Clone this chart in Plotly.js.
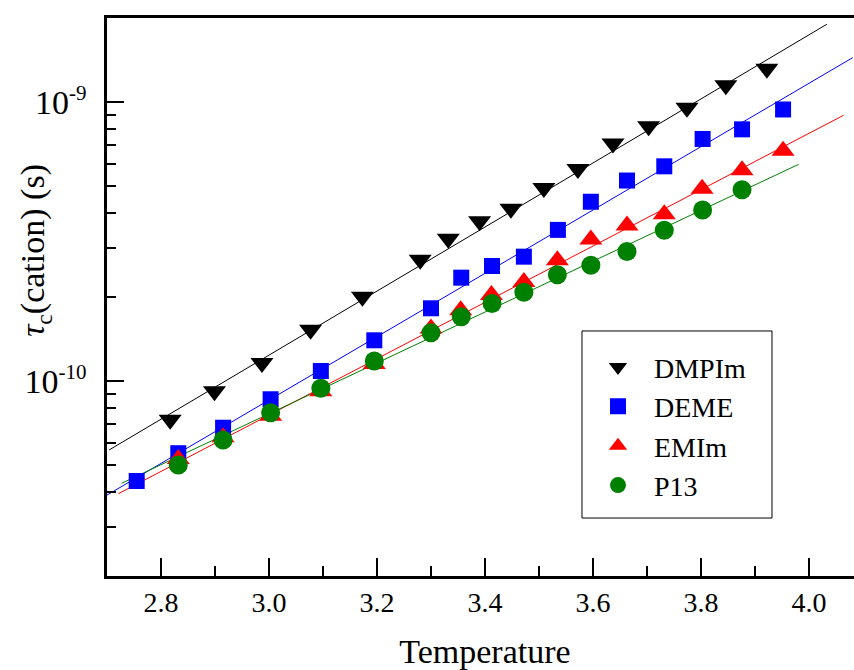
<!DOCTYPE html>
<html>
<head>
<meta charset="utf-8">
<script src="https://cdn.plot.ly/plotly-3.0.1.min.js"></script>
<style>
html, body { margin:0; padding:0; overflow:hidden; background:#fff; }
#chart { width:870px; height:670px; }
</style>
</head>
<body>
<div id="chart"></div>
<script>
// ---- data ----
const seriesNames = ["DMPIm", "DEME", "EMIm", "P13"];

const temp_DMPIm = [2.817, 2.899, 2.987, 3.077, 3.173, 3.280, 3.332, 3.390, 3.448, 3.509, 3.572, 3.637, 3.703, 3.774, 3.846, 3.922];
const tau_DMPIm  = [7.26e-11, 9.19e-11, 1.160e-10, 1.527e-10, 2.003e-10, 2.721e-10, 3.236e-10, 3.735e-10, 4.146e-10, 4.917e-10, 5.75e-10, 7.10e-10, 8.18e-10, 9.54e-10, 1.148e-9, 1.316e-9];

const temp_DEME = [2.755, 2.832, 2.915, 3.003, 3.096, 3.195, 3.300, 3.356, 3.413, 3.472, 3.535, 3.596, 3.663, 3.732, 3.803, 3.876, 3.952];
const tau_DEME  = [4.38e-11, 5.51e-11, 6.80e-11, 8.60e-11, 1.086e-10, 1.399e-10, 1.822e-10, 2.346e-10, 2.583e-10, 2.79e-10, 3.48e-10, 4.39e-10, 5.23e-10, 5.88e-10, 7.37e-10, 7.98e-10, 9.40e-10];

const temp_EMIm = [2.832, 2.915, 3.003, 3.096, 3.195, 3.300, 3.355, 3.412, 3.472, 3.534, 3.596, 3.663, 3.732, 3.802, 3.876, 3.952];
const tau_EMIm  = [5.25e-11, 6.28e-11, 7.50e-11, 9.18e-11, 1.150e-10, 1.541e-10, 1.792e-10, 2.035e-10, 2.265e-10, 2.707e-10, 3.217e-10, 3.606e-10, 3.958e-10, 4.886e-10, 5.69e-10, 6.69e-10];

const temp_P13 = [2.832, 2.915, 3.003, 3.096, 3.195, 3.300, 3.356, 3.413, 3.472, 3.534, 3.596, 3.663, 3.732, 3.803, 3.876];
const tau_P13  = [5.00e-11, 6.14e-11, 7.70e-11, 9.42e-11, 1.179e-10, 1.490e-10, 1.699e-10, 1.896e-10, 2.079e-10, 2.402e-10, 2.599e-10, 2.912e-10, 3.471e-10, 4.10e-10, 4.85e-10];

// fitted straight lines (end points)
const fitX_DMPIm = [2.704, 4.033];  const fitY_DMPIm = [5.66e-11, 1.899e-9];
const fitX_DEME  = [2.700, 4.081];  const fitY_DEME  = [3.90e-11, 1.442e-9];
const fitX_EMIm  = [2.721, 4.064];  const fitY_EMIm  = [3.945e-11, 8.96e-10];
const fitX_P13   = [2.727, 3.981];  const fitY_P13   = [4.30e-11, 5.98e-10];

const xTickVals = [2.8, 3.0, 3.2, 3.4, 3.6, 3.8, 4.0];
const xTickText = ["2.8", "3.0", "3.2", "3.4", "3.6", "3.8", "4.0"];
const yTickVals = [1e-10, 1e-9];
const yTickText = ["10<sup><span style='font-size:21px'>-10</span></sup>", "10<sup><span style='font-size:21px'>-9</span></sup>"];
const yMinorVals = [3e-11, 4e-11, 5e-11, 6e-11, 7e-11, 8e-11, 9e-11, 2e-10, 3e-10, 4e-10, 5e-10, 6e-10, 7e-10, 8e-10, 9e-10];

const xTitle = "Temperature";
const yTitle = "<i>τ</i><sub>c</sub>(cation) (s)";

// ---- styling ----
const FONT = "Liberation Serif, Times New Roman, serif";
const colors = { DMPIm: "#000000", DEME: "#0000ff", EMIm: "#ff0000", P13: "#008000" };

function fitLine(x, y, c) {
  return { x: x, y: y, mode: "lines", type: "scatter", showlegend: false, hoverinfo: "skip",
           line: { color: c, width: 1 } };
}
function pts(x, y, name, symbol, size) {
  return { x: x, y: y, name: name, mode: "markers", type: "scatter",
           marker: { symbol: symbol, size: size, color: colors[name], line: { width: 0 } } };
}

const traces = [
  fitLine(fitX_DMPIm, fitY_DMPIm, colors.DMPIm),
  fitLine(fitX_DEME, fitY_DEME, colors.DEME),
  fitLine(fitX_EMIm, fitY_EMIm, colors.EMIm),
  fitLine(fitX_P13, fitY_P13, colors.P13),
  pts(temp_DMPIm, tau_DMPIm, seriesNames[0], "triangle-down", 20),
  pts(temp_DEME, tau_DEME, seriesNames[1], "square", 16),
  pts(temp_EMIm, tau_EMIm, seriesNames[2], "triangle-up", 20),
  pts(temp_P13, tau_P13, seriesNames[3], "circle", 19)
];

const layout = {
  width: 870, height: 670,
  margin: { l: 107, r: 7, t: 18, b: 94 },
  paper_bgcolor: "#ffffff", plot_bgcolor: "#ffffff",
  font: { family: FONT, color: "#000", size: 28 },
  showlegend: true,
  xaxis: {
    range: [2.7, 4.1],
    tickmode: "array", tickvals: xTickVals, ticktext: xTickText,
    ticks: "inside", ticklen: 18, tickwidth: 2.5, tickcolor: "#000",
    minor: { tickmode: "linear", tick0: 2.7, dtick: 0.1, ticks: "inside", ticklen: 10, tickwidth: 2.5, tickcolor: "#000" },
    showline: true, linewidth: 2.7, linecolor: "#000", mirror: true,
    showgrid: false, zeroline: false,
    tickfont: { family: FONT, size: 28, color: "#000" },
    title: { text: xTitle, font: { family: FONT, size: 34, color: "#000" }, standoff: 22 }
  },
  yaxis: {
    type: "log",
    range: [Math.log10(2e-11), Math.log10(2e-9)],
    tickmode: "array", tickvals: yTickVals, ticktext: yTickText,
    ticks: "inside", ticklen: 17, tickwidth: 2.5, tickcolor: "#000",
    minor: { tickmode: "array", tickvals: yMinorVals, ticks: "inside", ticklen: 9, tickwidth: 2.5, tickcolor: "#000" },
    showline: true, linewidth: 2.7, linecolor: "#000", mirror: true,
    showgrid: false, zeroline: false,
    tickfont: { family: FONT, size: 34, color: "#000" },
    ticklabelstandoff: 11
  },
  legend: {
    x: 0.6283, y: 0.419, xanchor: "left", yanchor: "top",
    bgcolor: "rgba(0,0,0,0)", borderwidth: 0,
    font: { family: FONT, size: 28, color: "#000" },
    itemwidth: 62
  },
  shapes: [{
    type: "rect", xref: "paper", yref: "paper",
    x0: 0.6283, x1: 0.8796, y0: 0.1039, y1: 0.4391,
    line: { color: "#000", width: 1 }, fillcolor: "rgba(0,0,0,0)", layer: "above"
  }],
  annotations: [{
    xref: "paper", yref: "paper", x: -0.095, y: 0.583,
    xanchor: "center", yanchor: "middle", textangle: -90, showarrow: false,
    text: yTitle, font: { family: FONT, size: 34, color: "#000" }
  }]
};

Plotly.newPlot("chart", traces, layout, { displayModeBar: false, staticPlot: true });
</script>
</body>
</html>
